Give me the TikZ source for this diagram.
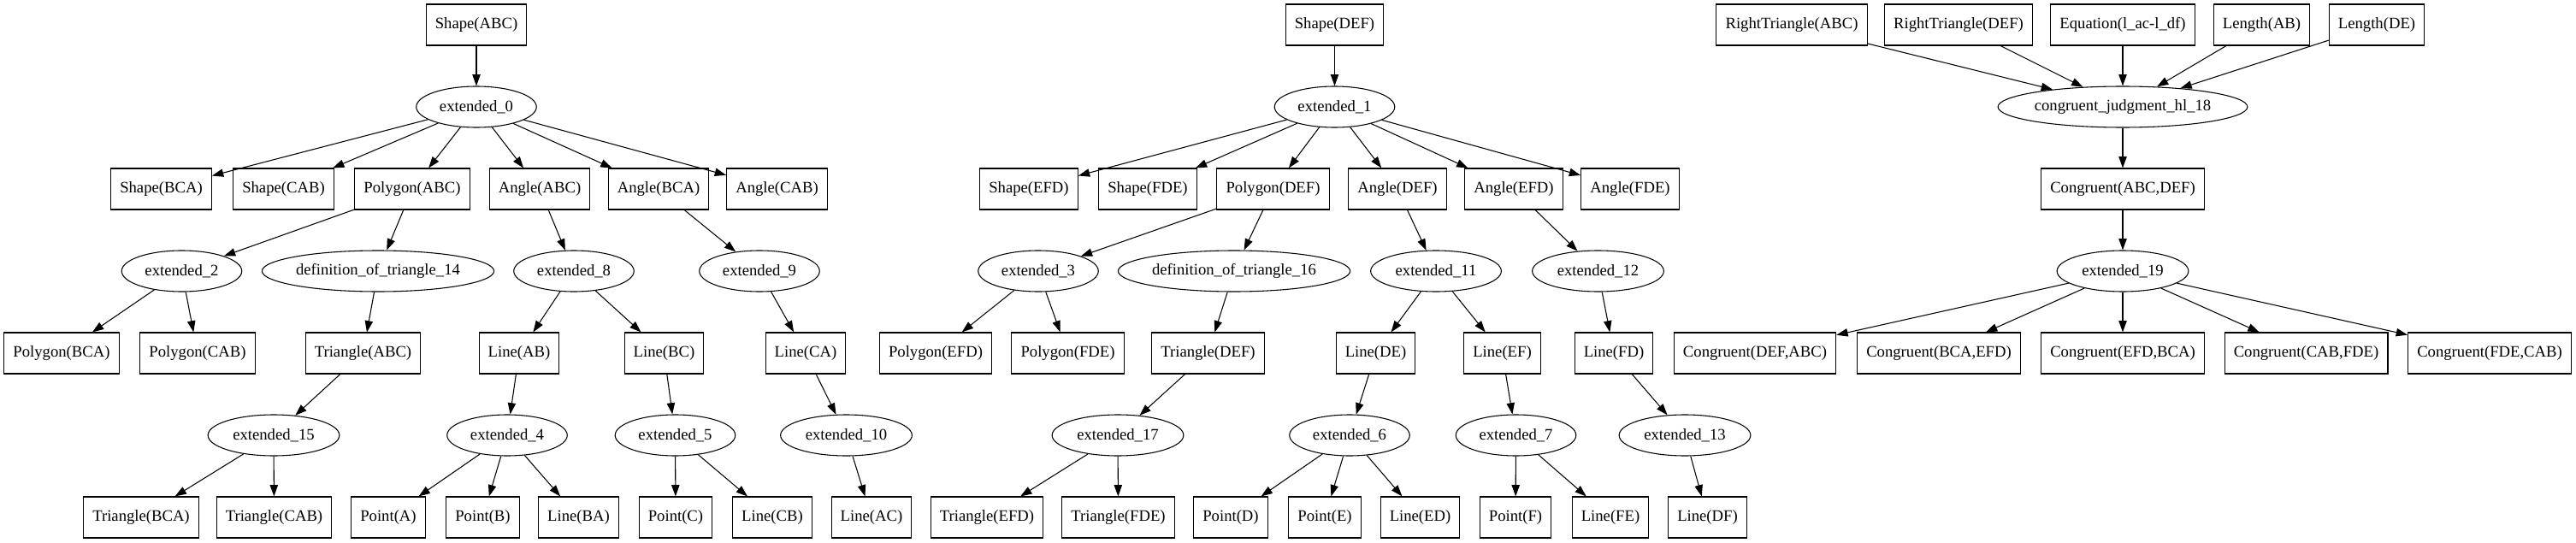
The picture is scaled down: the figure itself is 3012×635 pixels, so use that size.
\documentclass[tikz,border=0pt]{standalone}
\usepackage{fontspec}
\setmainfont{Liberation Serif}
\usepackage{tikz}
\usetikzlibrary{shapes.geometric, arrows.meta}

\begin{document}
\begin{tikzpicture}[x=0.75pt, y=-0.75pt, line width=0.8pt,
	>={Triangle[length=10pt, width=7pt]},
	fact/.style={draw, rectangle, minimum height=36pt, inner xsep=8pt, inner ysep=0pt, font=\fontsize{14}{16}\selectfont},
	rule/.style={draw, ellipse, minimum height=36pt, inner xsep=5pt, inner ysep=0pt, font=\fontsize{14}{16}\selectfont},
	longrule/.style={rule, inner xsep=0pt}]
	\useasboundingbox (0,0) rectangle (3012,635);
	\node[fact] (shapeABC) at (557,29) {Shape(ABC)};
	\node[rule] (ext0) at (557,125) {extended\_0};
	\node[fact] (shapeBCA) at (188.5,221) {Shape(BCA)};
	\node[fact] (shapeCAB) at (331.5,221) {Shape(CAB)};
	\node[fact] (polyABC) at (482,221) {Polygon(ABC)};
	\node[fact] (angleABC) at (631,221) {Angle(ABC)};
	\node[fact] (angleBCA) at (770,221) {Angle(BCA)};
	\node[fact] (angleCAB) at (908.5,221) {Angle(CAB)};
	\node[rule] (ext2) at (212.5,317) {extended\_2};
	\node[longrule] (def14) at (442,317) {definition\_of\_triangle\_14};
	\node[rule] (ext8) at (671,317) {extended\_8};
	\node[rule] (ext9) at (888,317) {extended\_9};
	\node[fact] (polyBCA) at (72,413) {Polygon(BCA)};
	\node[fact] (polyCAB) at (231,413) {Polygon(CAB)};
	\node[fact] (triABC) at (424.5,413) {Triangle(ABC)};
	\node[fact] (lineAB) at (607,413) {Line(AB)};
	\node[fact] (lineBC) at (776.5,413) {Line(BC)};
	\node[fact] (lineCA) at (942,413) {Line(CA)};
	\node[rule] (ext15) at (320,509) {extended\_15};
	\node[rule] (ext4) at (593,509) {extended\_4};
	\node[rule] (ext5) at (789.5,509) {extended\_5};
	\node[rule] (ext10) at (989.5,509) {extended\_10};
	\node[fact] (triBCA) at (165,605) {Triangle(BCA)};
	\node[fact] (triCAB) at (320.5,605) {Triangle(CAB)};
	\node[fact] (pointA) at (454,605) {Point(A)};
	\node[fact] (pointB) at (564.5,605) {Point(B)};
	\node[fact] (lineBA) at (676.5,605) {Line(BA)};
	\node[fact] (pointC) at (790,605) {Point(C)};
	\node[fact] (lineCB) at (903,605) {Line(CB)};
	\node[fact] (lineAC) at (1019,605) {Line(AC)};

	\node[fact] (shapeDEF) at (1560.5,29) {Shape(DEF)};
	\node[rule] (ext1) at (1560.5,125) {extended\_1};
	\node[fact] (shapeEFD) at (1203,221) {Shape(EFD)};
	\node[fact] (shapeFDE) at (1342,221) {Shape(FDE)};
	\node[fact] (polyDEF) at (1488.5,221) {Polygon(DEF)};
	\node[fact] (angleDEF) at (1634,221) {Angle(DEF)};
	\node[fact] (angleEFD) at (1770,221) {Angle(EFD)};
	\node[fact] (angleFDE) at (1906,221) {Angle(FDE)};
	\node[rule] (ext3) at (1214,317) {extended\_3};
	\node[longrule] (def16) at (1443,317) {definition\_of\_triangle\_16};
	\node[rule] (ext11) at (1679,317) {extended\_11};
	\node[rule] (ext12) at (1868.5,317) {extended\_12};
	\node[fact] (polyEFD) at (1094,413) {Polygon(EFD)};
	\node[fact] (polyFDE) at (1248.5,413) {Polygon(FDE)};
	\node[fact] (triDEF) at (1412.5,413) {Triangle(DEF)};
	\node[fact] (lineDE) at (1608.5,413) {Line(DE)};
	\node[fact] (lineEF) at (1756.5,413) {Line(EF)};
	\node[fact] (lineFD) at (1887,413) {Line(FD)};
	\node[rule] (ext17) at (1307,509) {extended\_17};
	\node[rule] (ext6) at (1578,509) {extended\_6};
	\node[rule] (ext7) at (1772.5,509) {extended\_7};
	\node[rule] (ext13) at (1970,509) {extended\_13};
	\node[fact] (triEFD) at (1154,605) {Triangle(EFD)};
	\node[fact] (triFDE) at (1307.5,605) {Triangle(FDE)};
	\node[fact] (pointD) at (1439,605) {Point(D)};
	\node[fact] (pointE) at (1549,605) {Point(E)};
	\node[fact] (lineED) at (1660.5,605) {Line(ED)};
	\node[fact] (pointF) at (1772,605) {Point(F)};
	\node[fact] (lineFE) at (1883,605) {Line(FE)};
	\node[fact] (lineDF) at (1996.5,605) {Line(DF)};

	\node[fact] (rtABC) at (2095,29) {RightTriangle(ABC)};
	\node[fact] (rtDEF) at (2290,29) {RightTriangle(DEF)};
	\node[fact] (eqn) at (2482,29) {Equation(l\_ac-l\_df)};
	\node[fact] (lenAB) at (2644.5,29) {Length(AB)};
	\node[fact] (lenDE) at (2779,29) {Length(DE)};
	\node[longrule] (hl18) at (2482,125) {congruent\_judgment\_hl\_18};
	\node[fact] (congABCDEF) at (2482,221) {Congruent(ABC,DEF)};
	\node[rule] (ext19) at (2482,317) {extended\_19};
	\node[fact] (congDEFABC) at (2052,413) {Congruent(DEF,ABC)};
	\node[fact] (congBCAEFD) at (2267,413) {Congruent(BCA,EFD)};
	\node[fact] (congEFDBCA) at (2482,413) {Congruent(EFD,BCA)};
	\node[fact] (congCABFDE) at (2696.5,413) {Congruent(CAB,FDE)};
	\node[fact] (congFDECAB) at (2911,413) {Congruent(FDE,CAB)};

	\draw[->] (shapeABC) -- (ext0);
	\draw[->] (ext0) -- (shapeBCA);
	\draw[->] (ext0) -- (shapeCAB);
	\draw[->] (ext0) -- (polyABC);
	\draw[->] (ext0) -- (angleABC);
	\draw[->] (ext0) -- (angleBCA);
	\draw[->] (ext0) -- (angleCAB);
	\draw[->] (polyABC) -- (ext2);
	\draw[->] (polyABC) -- (def14);
	\draw[->] (ext2) -- (polyBCA);
	\draw[->] (ext2) -- (polyCAB);
	\draw[->] (def14) -- (triABC);
	\draw[->] (triABC) -- (ext15);
	\draw[->] (ext15) -- (triBCA);
	\draw[->] (ext15) -- (triCAB);
	\draw[->] (angleABC) -- (ext8);
	\draw[->] (ext8) -- (lineAB);
	\draw[->] (ext8) -- (lineBC);
	\draw[->] (lineAB) -- (ext4);
	\draw[->] (ext4) -- (pointA);
	\draw[->] (ext4) -- (pointB);
	\draw[->] (ext4) -- (lineBA);
	\draw[->] (lineBC) -- (ext5);
	\draw[->] (ext5) -- (pointC);
	\draw[->] (ext5) -- (lineCB);
	\draw[->] (angleBCA) -- (ext9);
	\draw[->] (ext9) -- (lineCA);
	\draw[->] (lineCA) -- (ext10);
	\draw[->] (ext10) -- (lineAC);

	\draw[->] (shapeDEF) -- (ext1);
	\draw[->] (ext1) -- (shapeEFD);
	\draw[->] (ext1) -- (shapeFDE);
	\draw[->] (ext1) -- (polyDEF);
	\draw[->] (ext1) -- (angleDEF);
	\draw[->] (ext1) -- (angleEFD);
	\draw[->] (ext1) -- (angleFDE);
	\draw[->] (polyDEF) -- (ext3);
	\draw[->] (polyDEF) -- (def16);
	\draw[->] (ext3) -- (polyEFD);
	\draw[->] (ext3) -- (polyFDE);
	\draw[->] (def16) -- (triDEF);
	\draw[->] (triDEF) -- (ext17);
	\draw[->] (ext17) -- (triEFD);
	\draw[->] (ext17) -- (triFDE);
	\draw[->] (angleDEF) -- (ext11);
	\draw[->] (ext11) -- (lineDE);
	\draw[->] (ext11) -- (lineEF);
	\draw[->] (lineDE) -- (ext6);
	\draw[->] (ext6) -- (pointD);
	\draw[->] (ext6) -- (pointE);
	\draw[->] (ext6) -- (lineED);
	\draw[->] (lineEF) -- (ext7);
	\draw[->] (ext7) -- (pointF);
	\draw[->] (ext7) -- (lineFE);
	\draw[->] (angleEFD) -- (ext12);
	\draw[->] (ext12) -- (lineFD);
	\draw[->] (lineFD) -- (ext13);
	\draw[->] (ext13) -- (lineDF);

	\draw[->] (rtABC) -- (hl18);
	\draw[->] (rtDEF) -- (hl18);
	\draw[->] (eqn) -- (hl18);
	\draw[->] (lenAB) -- (hl18);
	\draw[->] (lenDE) -- (hl18);
	\draw[->] (hl18) -- (congABCDEF);
	\draw[->] (congABCDEF) -- (ext19);
	\draw[->] (ext19) -- (congDEFABC);
	\draw[->] (ext19) -- (congBCAEFD);
	\draw[->] (ext19) -- (congEFDBCA);
	\draw[->] (ext19) -- (congCABFDE);
	\draw[->] (ext19) -- (congFDECAB);
\end{tikzpicture}
\end{document}
